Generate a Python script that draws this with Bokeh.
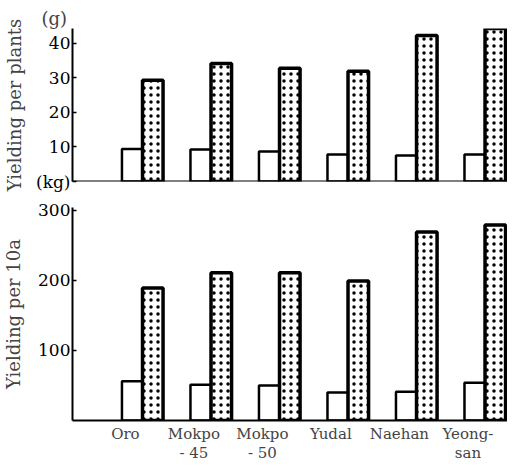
from bokeh.plotting import figure
from bokeh.layouts import column
from bokeh.models import Range1d, FixedTicker, Span, Title
from bokeh.embed import file_html
from bokeh.resources import INLINE

varieties = ["Oro", "Mokpo-45", "Mokpo-50", "Yudal", "Naehan", "Yeongsan"]
tick_labels = ["Oro", "Mokpo\n- 45", "Mokpo\n- 50", "Yudal", "Naehan", "Yeong-\nsan"]
plant_white = [9.4, 9.3, 8.7, 7.8, 7.5, 7.8]
plant_dotted = [29.3, 34.2, 32.8, 31.9, 42.3, 44.3]
area_white = [56, 51, 50, 40, 41, 54]
area_dotted = [189, 211, 211, 199, 269, 279]
plant_ticks = [10, 20, 30, 40]
area_ticks = [100, 200, 300]
unit_plant = "(g)"
unit_area = "(kg)"

FONT = "DejaVu Serif"
idx = list(range(len(varieties)))
xw = [i - 0.15 for i in idx]
xd = [i + 0.15 for i in idx]
BW = 0.3
X0, X1 = -1.022, 5.328
Y1_TOP, Y2_TOP = 44.3, 304


def style(p, ticks, label, standoff):
    p.outline_line_color = None
    p.grid.visible = False
    ax = p.yaxis[0]
    ax.ticker = FixedTicker(ticks=ticks)
    ax.axis_line_width = 2
    ax.major_tick_in = 4
    ax.major_tick_out = 0
    ax.minor_tick_in = 0
    ax.minor_tick_out = 0
    ax.major_tick_line_width = 1.5
    ax.major_label_standoff = 2
    ax.major_label_text_font = FONT
    ax.major_label_text_font_size = "17px"
    ax.major_label_text_color = "black"
    ax.axis_label = label
    ax.axis_label_text_font = FONT
    ax.axis_label_text_font_size = "18px"
    ax.axis_label_text_font_style = "normal"
    ax.axis_label_standoff = standoff


def bars(p, white, dotted):
    p.vbar(x=xw, top=white, width=BW, bottom=0, fill_color="white",
           line_color="black", line_width=2.5)
    p.vbar(x=xd, top=dotted, width=BW, bottom=0, fill_color="white",
           line_color="black", line_width=3.5, hatch_pattern="dot",
           hatch_color="black", hatch_scale=7, hatch_weight=1.5)


p1 = figure(frame_width=435, frame_height=153, x_range=Range1d(X0, X1),
            y_range=Range1d(0, Y1_TOP), output_backend="svg", toolbar_location=None,
            min_border_left=72, min_border_right=0, min_border_top=28,
            min_border_bottom=17,
            title=Title(text=unit_plant, align="left", offset=-31, standoff=0,
                        text_font=FONT, text_font_size="18px",
                        text_font_style="normal"))
# the unit of the lower panel sits at the foot of the upper axis
style(p1, [0] + plant_ticks, "Yielding per plants", 8)
p1.yaxis[0].major_label_overrides = {0: unit_area}
p1.xaxis.visible = False
bars(p1, plant_white, plant_dotted)
p1.add_layout(Span(location=0, dimension="width", line_color="black", line_width=2))

p2 = figure(frame_width=435, frame_height=213, x_range=Range1d(X0, X1),
            y_range=Range1d(0, Y2_TOP), output_backend="svg", toolbar_location=None,
            min_border_left=72, min_border_right=0, min_border_top=9,
            min_border_bottom=44)
style(p2, area_ticks, "Yielding per 10a", 11)
bars(p2, area_white, area_dotted)
xa = p2.xaxis[0]
tick_pos = [i - 0.25 for i in idx]
xa.ticker = FixedTicker(ticks=tick_pos)
xa.major_label_overrides = {t: lab for t, lab in zip(tick_pos, tick_labels)}
xa.axis_line_width = 2
xa.major_tick_in = 0
xa.major_tick_out = 0
xa.minor_tick_in = 0
xa.minor_tick_out = 0
xa.major_label_standoff = 4
xa.major_label_text_font = FONT
xa.major_label_text_font_size = "15px"
xa.major_label_text_line_height = 1.1

layout = column(p1, p2, spacing=0)
open("out.html", "w").write(file_html(layout, INLINE))
